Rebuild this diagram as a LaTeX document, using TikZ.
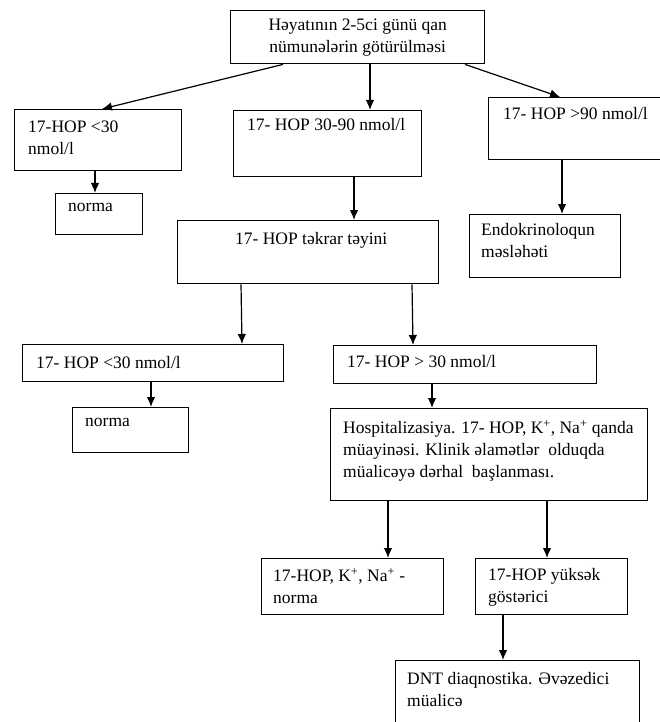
\documentclass[tikz,border=0pt]{standalone}
\usepackage{fontspec}
\setmainfont{Liberation Serif}
\usetikzlibrary{arrows.meta}

\tikzset{
  box/.style={draw, line width=1.4pt, anchor=north west, inner sep=0pt},
  txt/.style={anchor=north west, inner sep=0pt, align=left,
    font=\fontsize{17.5}{22}\selectfont},
  arr/.style={-{Latex[length=10pt,width=8.5pt]}, line width=1.2pt}
}

\begin{document}
\begin{tikzpicture}[x=1pt,y=-1pt]
                \useasboundingbox (0,0) rectangle (660,722);
                % boxes
                \node [box, minimum width=254pt, minimum height=53pt] (top) at (230,10) {};
                \node [box, minimum width=167pt, minimum height=61pt] (low) at (14,109) {};
                \node [box, minimum width=87pt, minimum height=41pt] (norma1) at (55,193) {};
                \node [box, minimum width=188pt, minimum height=66pt] (mid) at (233,110) {};
                \node [box, minimum width=172pt, minimum height=62pt] (high) at (488,97) {};
                \node [box, minimum width=151pt, minimum height=63pt] (endo) at (469,214) {};
                \node [box, minimum width=261pt, minimum height=63pt] (again) at (177,220) {};
                \node [box, minimum width=261pt, minimum height=37pt] (low2) at (22,344) {};
                \node [box, minimum width=116pt, minimum height=45pt] (norma2) at (72,407) {};
                \node [box, minimum width=263pt, minimum height=38pt] (high2) at (333,345) {};
                \node [box, minimum width=317pt, minimum height=92pt] (hosp) at (330,408) {};
                \node [box, minimum width=182pt, minimum height=56pt] (ok) at (261,558) {};
                \node [box, minimum width=152pt, minimum height=56pt] (raised) at (475,558) {};
                \node [box, minimum width=244pt, minimum height=62pt] (dnt) at (395,660) {};
                % texts
                \node [txt, anchor=center, align=center] (top-t) at (top.center) {Həyatının 2-5ci günü qan\\nümunələrin götürülməsi};
                \node [txt] (low-t) at ([xshift=14pt,yshift=-12pt]low.north west) {17-HOP <30\\nmol/l};
                \node [txt] (norma1-t) at ([xshift=13pt,yshift=-10pt]norma1.north west) {norma};
                \node [txt] (mid-t) at ([xshift=14pt,yshift=-8pt]mid.north west) {17- HOP 30-90 nmol/l};
                \node [txt] (high-t) at ([xshift=15pt,yshift=-10pt]high.north west) {17- HOP >90 nmol/l};
                \node [txt] (endo-t) at ([xshift=12pt,yshift=-9pt]endo.north west) {Endokrinoloqun\\məsləhəti};
                \node [txt, anchor=north] (again-t) at ([xshift=3pt,yshift=-12pt]again.north) {17- HOP təkrar təyini};
                \node [txt] (low2-t) at ([xshift=14pt,yshift=-12pt]low2.north west) {17- HOP <30 nmol/l};
                \node [txt] (norma2-t) at ([xshift=13pt,yshift=-11pt]norma2.north west) {norma};
                \node [txt] (high2-t) at ([xshift=14pt,yshift=-10pt]high2.north west) {17- HOP > 30 nmol/l};
                \node [txt] (hosp-t) at ([xshift=13pt,yshift=-12pt]hosp.north west) {Hospitalizasiya. 17- HOP, K\textsuperscript{+}, Na\textsuperscript{+} qanda\\müayinəsi. Klinik əlamətlər \ olduqda\\müalicəyə dərhal \ başlanması.};
                \node [txt] (ok-t) at ([xshift=12pt,yshift=-10pt]ok.north west) {17-HOP, K\textsuperscript{+}, Na\textsuperscript{+} -\\norma};
                \node [txt] (raised-t) at ([xshift=13pt,yshift=-10pt]raised.north west) {17-HOP yüksək\\göstərici};
                \node [txt] (dnt-t) at ([xshift=12pt,yshift=-12pt]dnt.north west) {DNT diaqnostika. Əvəzedici\\müalicə};
                % arrows
                \draw [arr] (top.south -| 283,0) -- (low.north -| 102,0);
                \draw [arr] (top.south -| 370,0) -- (mid.north -| 370,0);
                \draw [arr] (top.south -| 465,0) -- (high.north -| 560,0);
                \draw [arr] (low.south -| 95,0) -- (norma1.north -| 95,0);
                \draw [arr] (mid.south -| 354,0) -- (again.north -| 354,0);
                \draw [arr] (high.south -| 562,0) -- (endo.north -| 562,0);
                \draw [arr] (again.south -| 241,0) -- (low2.north -| 242,0);
                \draw [arr] (again.south -| 412,0) -- (high2.north -| 413,0);
                \draw [arr] (low2.south -| 151,0) -- (norma2.north -| 151,0);
                \draw [arr] (high2.south -| 432,0) -- (hosp.north -| 432,0);
                \draw [arr] (hosp.south -| 388,0) -- (ok.north -| 388,0);
                \draw [arr] (hosp.south -| 547,0) -- (raised.north -| 547,0);
                \draw [arr] (raised.south -| 503,0) -- (dnt.north -| 503,0);
            \end{tikzpicture}
\end{document}
